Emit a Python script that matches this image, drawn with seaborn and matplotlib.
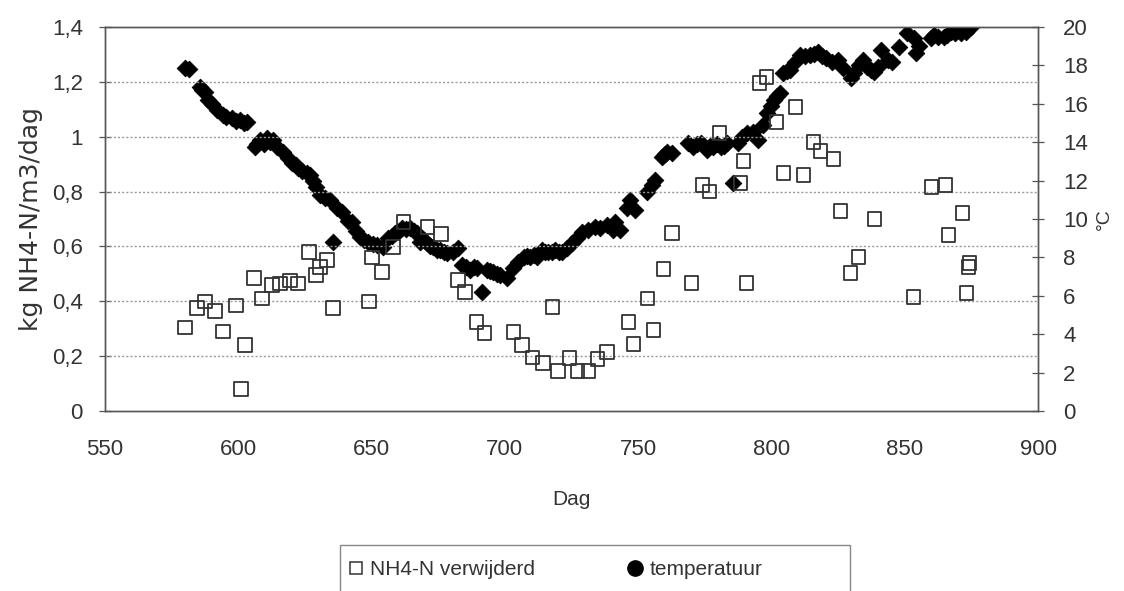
import matplotlib
matplotlib.use("Agg")
import matplotlib.pyplot as plt
import seaborn as sns
import pandas as pd
from matplotlib.lines import Line2D
from matplotlib.patches import Rectangle
from matplotlib.ticker import FixedLocator, FixedFormatter

# ---------------- data ----------------
nh4_dag = [580, 584.5, 587.5, 591.3, 594.3, 599.2, 601, 602.6, 606, 609, 612.7, 615.7,
           619.4, 622.4, 626.6, 629.2, 630.7, 633.3, 635.6, 649.1, 650.2, 654, 658.1,
           661.9, 670.9, 676.1, 682.5, 685.1, 689.3, 692.3, 703.2, 706.5, 710.3, 714.4,
           717.8, 720, 724.2, 727.2, 731.3, 734.7, 738.4, 746.3, 748.2, 753.5, 755.7,
           759.5, 762.8, 770, 774.1, 776.7, 780.5, 788.4, 789.5, 790.6, 795.5, 798.1,
           801.9, 804.5, 809, 812, 815.8, 818.4, 823.3, 825.9, 829.7, 832.7, 838.7,
           853.3, 860.1, 865.3, 866.4, 871.7, 873.2, 874, 874.3]
nh4_verwijderd = [0.305, 0.375, 0.40, 0.365, 0.29, 0.385, 0.08, 0.24, 0.485, 0.41, 0.46,
                  0.465, 0.475, 0.465, 0.58, 0.495, 0.525, 0.55, 0.375, 0.40, 0.56, 0.507,
                  0.598, 0.69, 0.67, 0.645, 0.478, 0.434, 0.324, 0.284, 0.288, 0.24, 0.195,
                  0.175, 0.379, 0.145, 0.193, 0.145, 0.145, 0.19, 0.215, 0.324, 0.244,
                  0.41, 0.295, 0.518, 0.649, 0.467, 0.824, 0.80, 1.013, 0.831, 0.912,
                  0.467, 1.196, 1.217, 1.054, 0.867, 1.108, 0.86, 0.98, 0.948, 0.918,
                  0.729, 0.503, 0.561, 0.70, 0.416, 0.817, 0.824, 0.642, 0.722, 0.43,
                  0.525, 0.54]

temp_dag = [580.0, 581.5, 585.7, 586.5, 587.5, 588.7, 590.0, 592.0, 594.3, 595.5, 597.7,
            599.0, 600.7, 602.0, 603.3, 606.3, 607.0, 608.2, 609.5, 610.8, 612.0, 613.0,
            614.6, 616.8, 618.5, 620.2, 621.5, 622.4, 624.0, 625.8, 627.0, 628.1, 629.0,
            630.7, 632.5, 634.5, 635.6, 637.1, 639.0, 641.2, 642.7, 644.2, 645.7, 647.0,
            648.7, 650.4, 652.1, 654.4, 656.2, 657.5, 658.9, 660.2, 661.5, 663.0, 664.5,
            665.8, 667.1, 668.2, 669.5, 670.9, 672.0, 673.1, 674.5, 675.7, 677.0, 678.4,
            680.6, 682.5, 684.0, 685.5, 687.0, 688.3, 689.6, 691.5, 693.4, 694.5, 695.6,
            697.0, 698.3, 700.9, 703.2, 705.1, 707.0, 708.3, 709.5, 711.0, 712.2, 714.0,
            715.2, 716.3, 717.5, 718.9, 720.2, 721.5, 723.4, 725.3, 727.2, 729.0, 731.3,
            733.9, 735.8, 738.4, 740.7, 741.4, 743.3, 745.9, 747.1, 749.0, 753.5, 755.3,
            756.5, 759.1, 760.0, 761.0, 762.8, 768.8, 770.7, 772.0, 773.4, 774.7, 776.0,
            777.0, 778.2, 779.5, 780.9, 782.2, 783.5, 785.4, 787.6, 789.1, 791.0, 793.2,
            795.1, 797.0, 798.5, 799.8, 800.8, 802.0, 803.4, 804.5, 805.8, 807.1, 809.0,
            810.9, 812.7, 814.6, 816.0, 817.6, 819.0, 820.3, 822.9, 825.1, 827.0, 829.7,
            831.0, 832.7, 834.5, 836.0, 837.2, 838.3, 839.8, 841.2, 843.9, 845.4, 848.0,
            851.0, 853.3, 854.1, 855.5, 859.7, 861.0, 862.3, 864.6, 866.0, 867.2, 869.0,
            871.0, 872.8, 874.7]
temperatuur = [17.86, 17.8, 16.9, 16.7, 16.6, 16.2, 16.0, 15.7, 15.4, 15.3, 15.26,
               15.1, 15.15, 15.0, 15.05, 13.75, 13.9, 14.1, 13.9, 14.2, 14.0, 14.1,
               13.75, 13.5, 13.2, 12.9, 12.8, 12.65, 12.5, 12.4, 12.3, 12.0, 11.67,
               11.25, 11.1, 11.0, 8.8, 10.57, 10.36, 9.9, 9.84, 9.4, 9.06, 8.9,
               8.8, 8.7, 8.65, 8.54, 9.0, 9.1, 9.27, 9.4, 9.53, 9.5, 9.53,
               9.4, 9.27, 8.8, 8.9, 8.75, 8.6, 8.54, 8.4, 8.39, 8.3, 8.23,
               8.28, 8.49, 7.6, 7.5, 7.34, 7.5, 7.45, 6.2, 7.34, 7.3, 7.24,
               7.15, 7.08, 6.93, 7.45, 7.76, 8.0, 8.05, 8.0, 8.1, 8.0, 8.39,
               8.3, 8.28, 8.3, 8.39, 8.3, 8.28, 8.49, 8.75, 9.0, 9.3, 9.43,
               9.58, 9.53, 9.69, 9.43, 9.84, 9.43, 10.57, 11.0, 10.47, 11.4, 11.77,
               12.03, 13.23, 13.4, 13.5, 13.44, 13.96, 13.75, 13.9, 13.96, 13.8, 13.6,
               13.8, 13.75, 13.9, 13.75, 13.8, 13.96, 11.87, 13.96, 14.27, 14.48, 14.53,
               14.11, 14.9, 15.52, 15.9, 16.2, 16.4, 16.56, 17.6, 17.7, 17.76, 18.2,
               18.54, 18.5, 18.54, 18.6, 18.7, 18.5, 18.39, 18.18, 18.28, 17.86, 17.34,
               17.6, 18.0, 18.28, 17.9, 17.76, 17.66, 17.9, 18.8, 18.28, 18.18, 18.96,
               19.69, 19.43, 18.65, 19.0, 19.43, 19.6, 19.48, 19.48, 19.6, 19.74, 19.7,
               19.69, 19.74, 20.0]

x_ticks = [550, 600, 650, 700, 750, 800, 850, 900]
y_ticks = [0, 0.2, 0.4, 0.6, 0.8, 1.0, 1.2, 1.4]
y_ticklabels = ["0", "0,2", "0,4", "0,6", "0,8", "1", "1,2", "1,4"]
t_ticks = [0, 2, 4, 6, 8, 10, 12, 14, 16, 18, 20]

# ---------------- plot ----------------
sns.set_theme(style="white")
plt.rcParams["font.family"] = ["Liberation Sans", "DejaVu Sans"]

df_n = pd.DataFrame({"Dag": nh4_dag, "NH4": nh4_verwijderd})
df_t = pd.DataFrame({"Dag": temp_dag, "T": temperatuur})

fig = plt.figure(figsize=(11.24, 5.91), dpi=100)
ax = fig.add_axes([0.0934, 0.3046, 0.8301, 0.6497])
ax2 = ax.twinx()

sns.scatterplot(data=df_t, x="Dag", y="T", ax=ax2, marker="D", s=72,
                color="#000000", edgecolor="#000000", linewidth=0.6, zorder=3)
sns.scatterplot(data=df_n, x="Dag", y="NH4", ax=ax, marker="s", s=95,
                facecolor="none", edgecolor="#333333", linewidth=1.3, zorder=3)

ax.set_xlim(550, 900)
ax.set_ylim(0, 1.4)
ax2.set_ylim(0, 20)

ax.xaxis.set_major_locator(FixedLocator(x_ticks))
ax.yaxis.set_major_locator(FixedLocator(y_ticks))
ax.yaxis.set_major_formatter(FixedFormatter(y_ticklabels))
ax2.yaxis.set_major_locator(FixedLocator(t_ticks))

for yv in y_ticks[1:-1]:
    ax.axhline(yv, color="#999999", linestyle=(0, (1.5, 1.5)), linewidth=1.0, zorder=1)

spine_c = "#555555"
txt_c = "#333333"
for a in (ax, ax2):
    for sp in a.spines.values():
        sp.set_color(spine_c)
        sp.set_linewidth(1.0)
        sp.set_visible(True)

ax.tick_params(axis="both", which="major", direction="inout", length=8, width=0.9,
               color=spine_c, labelsize=16, labelcolor=txt_c)
ax.tick_params(axis="y", pad=12)
ax.tick_params(axis="x", pad=16)
ax2.tick_params(axis="y", which="major", direction="inout", length=8, width=0.9,
                color=spine_c, labelsize=16, labelcolor=txt_c, pad=14)

ax.set_xlabel("Dag", fontsize=15, color=txt_c, labelpad=22)
ax.set_ylabel("kg NH4-N/m3/dag", fontsize=18, color=txt_c, labelpad=6,
              family=["DejaVu Sans"])
ax2.set_ylabel("°C", fontsize=14, color=txt_c)
ax2.yaxis.set_label_coords(1.062, 0.5)

ax.grid(False)
ax2.grid(False)
ax.set_zorder(ax2.get_zorder() + 1)
ax.patch.set_visible(False)

# legend
fig.patches.append(Rectangle((0.3025, -0.01), 0.4537, 0.0878, transform=fig.transFigure,
                             facecolor="white", edgecolor="#888888", linewidth=1.0,
                             zorder=0))
handles = [
    Line2D([], [], linestyle="none", marker="s", markersize=8, markerfacecolor="none",
           markeredgecolor="#333333", markeredgewidth=1.1),
    Line2D([], [], linestyle="none", marker="o", markersize=11, markerfacecolor="#000000",
           markeredgecolor="#000000"),
]
leg = fig.legend(handles, ["NH4-N verwijderd", "temperatuur"], ncol=2,
                 loc="center left", bbox_to_anchor=(0.309, 0.036),
                 frameon=False, fontsize=15, borderpad=0, borderaxespad=0,
                 handletextpad=0.3, handlelength=0.8, columnspacing=4.4)
for t in leg.get_texts():
    t.set_color(txt_c)

fig.savefig("out.png", dpi=100)
